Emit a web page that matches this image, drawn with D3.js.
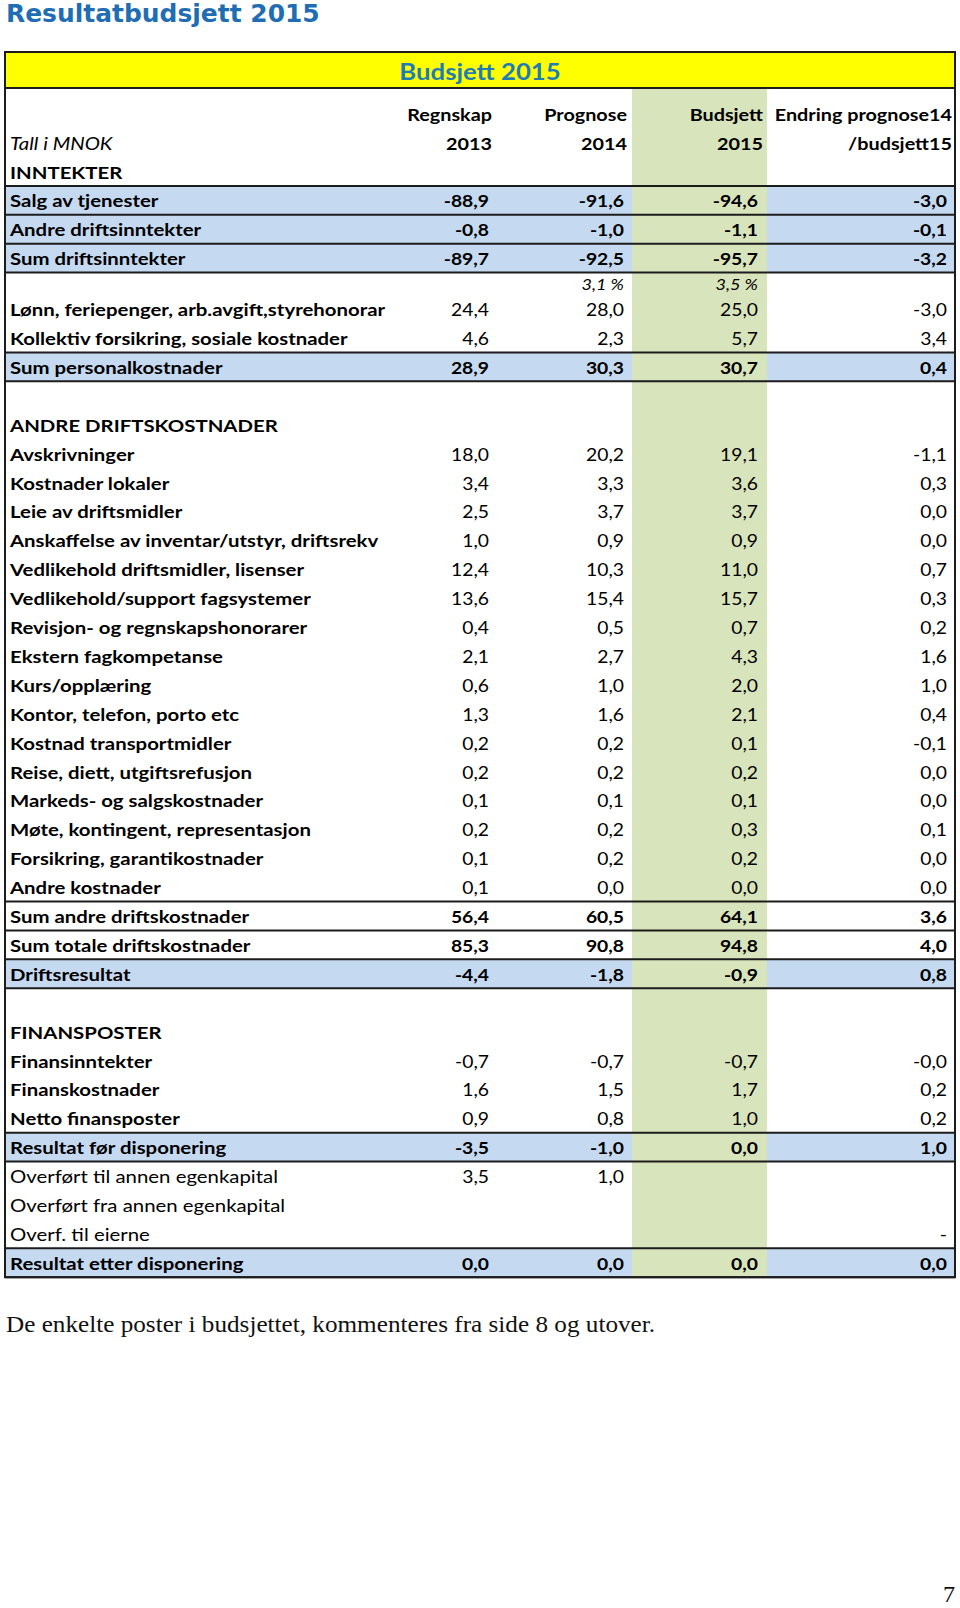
<!DOCTYPE html>
<html>
<head>
<meta charset="utf-8">
<script src="https://cdn.jsdelivr.net/npm/d3@7"></script>
<style>
  body { margin: 0; background: #fff; }
  svg { display: block; }
</style>
</head>
<body>
<div id="chart"></div>
<script>
// ------------------------------------------ DATA -------------------------------------------

const colKeys = ["r13", "p14", "b15", "end"];
const colHead1 = ["Regnskap", "Prognose", "Budsjett", "Endring prognose14"];
const colHead2 = ["2013", "2014", "2015", "/budsjett15"];

const labels = [
  "INNTEKTER",
  "Salg av tjenester",
  "Andre driftsinntekter",
  "Sum driftsinntekter",
  "",
  "Lønn, feriepenger, arb.avgift,styrehonorar",
  "Kollektiv forsikring, sosiale kostnader",
  "Sum personalkostnader",
  "",
  "ANDRE DRIFTSKOSTNADER",
  "Avskrivninger",
  "Kostnader lokaler",
  "Leie av driftsmidler",
  "Anskaffelse av inventar/utstyr, driftsrekv",
  "Vedlikehold driftsmidler, lisenser",
  "Vedlikehold/support fagsystemer",
  "Revisjon- og regnskapshonorarer",
  "Ekstern fagkompetanse",
  "Kurs/opplæring",
  "Kontor, telefon, porto etc",
  "Kostnad transportmidler",
  "Reise, diett, utgiftsrefusjon",
  "Markeds- og salgskostnader",
  "Møte, kontingent, representasjon",
  "Forsikring, garantikostnader",
  "Andre kostnader",
  "Sum andre driftskostnader",
  "Sum totale driftskostnader",
  "Driftsresultat",
  "",
  "FINANSPOSTER",
  "Finansinntekter",
  "Finanskostnader",
  "Netto finansposter",
  "Resultat før disponering",
  "Overført til annen egenkapital",
  "Overført fra annen egenkapital",
  "Overf. til eierne",
  "Resultat etter disponering"
];

// section = heading, item = bold label / normal value, sum = blue boxed row,
// total = boxed white row, plain = normal text, pct = growth row, blank = empty
const kinds = [
  "section", "sum", "sum", "sum", "pct", "item", "item", "sum", "blank",
  "section", "item", "item", "item", "item", "item", "item", "item", "item",
  "item", "item", "item", "item", "item", "item", "item", "item",
  "total", "total", "sum", "blank",
  "section", "item", "item", "item", "sum", "plain", "plain", "plain", "sum"
];

const regnskap13 = [
  null, -88.9, -0.8, -89.7, null, 24.4, 4.6, 28.9, null,
  null, 18.0, 3.4, 2.5, 1.0, 12.4, 13.6, 0.4, 2.1, 0.6, 1.3, 0.2, 0.2, 0.1, 0.2, 0.1, 0.1,
  56.4, 85.3, -4.4, null,
  null, -0.7, 1.6, 0.9, -3.5, 3.5, null, null, 0.0
];
const prognose14 = [
  null, -91.6, -1.0, -92.5, null, 28.0, 2.3, 30.3, null,
  null, 20.2, 3.3, 3.7, 0.9, 10.3, 15.4, 0.5, 2.7, 1.0, 1.6, 0.2, 0.2, 0.1, 0.2, 0.2, 0.0,
  60.5, 90.8, -1.8, null,
  null, -0.7, 1.5, 0.8, -1.0, 1.0, null, null, 0.0
];
const budsjett15 = [
  null, -94.6, -1.1, -95.7, null, 25.0, 5.7, 30.7, null,
  null, 19.1, 3.6, 3.7, 0.9, 11.0, 15.7, 0.7, 4.3, 2.0, 2.1, 0.1, 0.2, 0.1, 0.3, 0.2, 0.0,
  64.1, 94.8, -0.9, null,
  null, -0.7, 1.7, 1.0, 0.0, null, null, null, 0.0
];
const endring = [
  null, -3.0, -0.1, -3.2, null, -3.0, 3.4, 0.4, null,
  null, -1.1, 0.3, 0.0, 0.0, 0.7, 0.3, 0.2, 1.6, 1.0, 0.4, -0.1, 0.0, 0.0, 0.1, 0.0, 0.0,
  3.6, 4.0, 0.8, null,
  null, -0.0, 0.2, 0.2, 1.0, null, null, "-", 0.0
];

// lønnsvekst shown in the small italic row (prognose, budsjett)
const lonnsvekst = [3.1, 3.5];

// ------------------------------------------ FUNCTIONS -------------------------------------------

// norwegian number format, keeps "-0,0"
function fmt(v) {
  if (v === null || v === undefined) return "";
  if (typeof v === "string") return v;
  let neg = v < 0 || Object.is(v, -0);
  return (neg ? "-" : "") + Math.abs(v).toFixed(1).replace(".", ",");
}

// the original page is a bit wider than tall, so text gets stretched sideways
function place(x, y, sx) {
  return "translate(" + x + "," + y + ") scale(" + sx + ",1)";
}

// ------------------------------------------ LAYOUT -------------------------------------------

const W = 960, H = 1608;
const tableLeft = 5, tableRight = 955, tableTop = 52;
const yellowBottom = 88, bodyTop = 157;
const rowH = 28.9, pctH = 22;
const sans = "Lato, 'Open Sans', sans-serif";
const fs = 16.5, sx = 1.2, sxLabel = 1.235;

const svg = d3.select("#chart").append("svg")
  .attr("width", W)
  .attr("height", H);

svg.append("rect").attr("width", W).attr("height", H).attr("fill", "#fff");

// row tops through an ordinal scale
let heights = kinds.map(k => k === "pct" ? pctH : rowH);
let tops = [bodyTop].concat(Array.from(d3.cumsum(heights), c => bodyTop + c));
let yTop = d3.scaleOrdinal().domain(d3.range(tops.length)).range(tops);
let yH = d3.scaleOrdinal().domain(d3.range(kinds.length)).range(heights);
let tableBottom = yTop(kinds.length);

// value columns: right edge for numbers and headers
let xVal = d3.scaleOrdinal().domain(colKeys).range([489, 624, 758, 947]);
let xHead = d3.scaleOrdinal().domain(colKeys).range([492, 627, 763, 952]);
let colSeries = {r13: regnskap13, p14: prognose14, b15: budsjett15, end: endring};

// green budget column span
const greenLeft = 632, greenRight = 767;

// title
svg.append("text")
  .attr("transform", place(6, 22, 1.04))
  .attr("font-family", "'DejaVu Sans', Verdana, sans-serif")
  .attr("font-weight", "bold")
  .attr("font-size", 24)
  .attr("fill", "#1f6db3")
  .text("Resultatbudsjett 2015");

// yellow banner
svg.append("rect")
  .attr("x", tableLeft).attr("y", tableTop)
  .attr("width", tableRight - tableLeft).attr("height", yellowBottom - tableTop)
  .attr("fill", "#ffff00");

svg.append("text")
  .attr("transform", place((tableLeft + tableRight) / 2, 80, 1.12))
  .attr("text-anchor", "middle")
  .attr("font-family", sans)
  .attr("font-weight", "bold")
  .attr("font-size", 23)
  .attr("fill", "#1f7db5")
  .text("Budsjett 2015");

// blue rows
let rowIdx = d3.range(kinds.length);
svg.append("g").selectAll("rect")
  .data(rowIdx.filter(i => kinds[i] === "sum"))
  .enter().append("rect")
  .attr("x", tableLeft)
  .attr("y", i => yTop(i))
  .attr("width", tableRight - tableLeft)
  .attr("height", i => yH(i))
  .attr("fill", "#c5d9f1");

// green column on top
svg.append("rect")
  .attr("x", greenLeft).attr("y", yellowBottom)
  .attr("width", greenRight - greenLeft).attr("height", tableBottom - yellowBottom)
  .attr("fill", "#d8e4bc");

// horizontal rules around boxed rows
let rules = new Set([yellowBottom]);
rowIdx.forEach(i => {
  if (kinds[i] === "sum" || kinds[i] === "total") {
    rules.add(yTop(i));
    rules.add(yTop(i + 1));
  }
});
svg.append("g").selectAll("line")
  .data(Array.from(rules))
  .enter().append("line")
  .attr("x1", tableLeft).attr("x2", tableRight)
  .attr("y1", d => d).attr("y2", d => d)
  .attr("stroke", "#1c1c1c")
  .attr("stroke-width", 2);

// outer border
svg.append("rect")
  .attr("x", tableLeft).attr("y", tableTop)
  .attr("width", tableRight - tableLeft).attr("height", tableBottom - tableTop)
  .attr("fill", "none")
  .attr("stroke", "#1c1c1c")
  .attr("stroke-width", 2);

// column headers
let head = svg.append("g")
  .attr("font-family", sans)
  .attr("font-weight", "bold")
  .attr("font-size", fs)
  .attr("fill", "#000")
  .attr("text-anchor", "end");
head.selectAll(".h1").data(colKeys).enter().append("text")
  .attr("transform", k => place(xHead(k), 121, sx))
  .text((k, i) => colHead1[i]);
head.selectAll(".h2").data(colKeys).enter().append("text")
  .attr("transform", k => place(xHead(k), 150, sx))
  .text((k, i) => colHead2[i]);

svg.append("text")
  .attr("transform", place(10, 150, sxLabel))
  .attr("font-family", sans)
  .attr("font-style", "italic")
  .attr("font-size", fs)
  .text("Tall i MNOK");

// row labels
svg.append("g").selectAll("text")
  .data(rowIdx.filter(i => labels[i] !== ""))
  .enter().append("text")
  .attr("transform", i => place(10, yTop(i) + 21.5, sxLabel))
  .attr("font-family", sans)
  .attr("font-size", fs)
  .attr("font-weight", i => kinds[i] === "plain" ? "normal" : "bold")
  .text(i => labels[i]);

// values
let cells = [];
rowIdx.forEach(i => {
  colKeys.forEach(k => {
    let v = colSeries[k][i];
    if (v !== null) cells.push({row: i, col: k, v: v});
  });
});
svg.append("g").selectAll("text")
  .data(cells)
  .enter().append("text")
  .attr("transform", d => place(xVal(d.col), yTop(d.row) + 21.5, 1.17))
  .attr("text-anchor", "end")
  .attr("font-family", sans)
  .attr("font-size", fs)
  .attr("font-weight", d => (kinds[d.row] === "sum" || kinds[d.row] === "total") ? "bold" : "normal")
  .text(d => fmt(d.v));

// small italic growth row
let pctRow = kinds.indexOf("pct");
svg.append("g").selectAll("text")
  .data(["p14", "b15"])
  .enter().append("text")
  .attr("transform", k => place(xVal(k), yTop(pctRow) + 17, sx))
  .attr("text-anchor", "end")
  .attr("font-family", sans)
  .attr("font-style", "italic")
  .attr("font-size", 15)
  .text((k, i) => fmt(lonnsvekst[i]) + " %");

// footnote and page number
svg.append("text")
  .attr("transform", place(6, 1332, 1.12))
  .attr("font-family", "'Liberation Serif', 'Times New Roman', serif")
  .attr("font-size", 22.5)
  .attr("fill", "#111")
  .text("De enkelte poster i budsjettet, kommenteres fra side 8 og utover.");

svg.append("text")
  .attr("transform", place(955, 1602, 1.05))
  .attr("text-anchor", "end")
  .attr("font-family", "'Liberation Serif', 'Times New Roman', serif")
  .attr("font-size", 23)
  .attr("fill", "#111")
  .text("7");
</script>
</body>
</html>
